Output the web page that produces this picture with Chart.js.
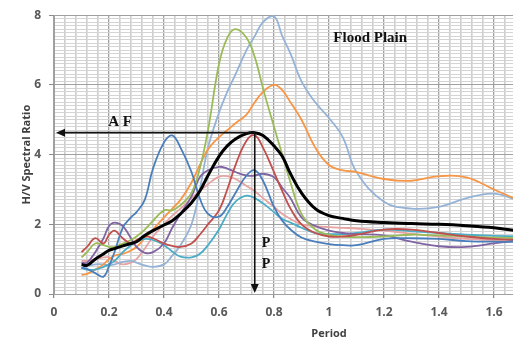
<!DOCTYPE html>
<html>
<head>
<meta charset="utf-8">
<script src="https://cdn.jsdelivr.net/npm/chart.js@4.4.1/dist/chart.umd.min.js"></script>
<style>
  html, body { margin: 0; padding: 0; background: #fff; overflow: hidden; }
  #wrap { width: 620px; height: 345px; }
</style>
</head>
<body>
<div id="wrap"><canvas id="myChart" width="620" height="345"></canvas></div>
<script>
// Period (s) of each sample point, shared by every curve
const periods = [0.10, 0.12, 0.15, 0.18, 0.20, 0.22, 0.25, 0.28, 0.30, 0.33, 0.36, 0.40, 0.43, 0.46, 0.50, 0.53, 0.56, 0.60, 0.63, 0.66,
                 0.70, 0.73, 0.76, 0.80, 0.83, 0.86, 0.90, 0.95, 1.00, 1.05, 1.10, 1.20, 1.30, 1.40, 1.50, 1.60, 1.70];

// H/V curves of the single stations
const blueHV   = [0.75, 0.72, 0.60, 0.50, 0.80, 1.20, 1.90, 2.20, 2.35, 2.70, 3.60, 4.35, 4.55, 4.20, 3.50, 2.75, 2.30, 2.22, 2.50, 2.90,
                  3.40, 3.55, 3.25, 2.50, 2.10, 1.85, 1.62, 1.50, 1.43, 1.40, 1.40, 1.58, 1.60, 1.58, 1.52, 1.50, 1.50];
const greenHV  = [1.05, 1.20, 1.45, 1.40, 1.35, 1.35, 1.45, 1.55, 1.65, 1.85, 2.10, 2.40, 2.40, 2.55, 2.90, 3.60, 4.70, 6.60, 7.35, 7.60,
                  7.35, 6.80, 5.90, 4.80, 4.00, 3.20, 2.30, 1.85, 1.70, 1.65, 1.63, 1.65, 1.70, 1.68, 1.65, 1.62, 1.60];
const lightBlueHV = [0.75, 0.80, 0.85, 0.85, 0.82, 0.85, 0.92, 0.95, 0.90, 0.82, 0.78, 0.85, 1.10, 1.40, 2.00, 3.00, 4.20, 5.20, 5.80, 6.30,
                  7.00, 7.40, 7.80, 7.97, 7.40, 6.90, 6.10, 5.50, 5.05, 4.50, 3.50, 2.65, 2.45, 2.50, 2.75, 2.88, 2.65];
const orangeHV = [0.55, 0.58, 0.70, 0.85, 1.00, 1.10, 1.15, 1.25, 1.35, 1.60, 1.85, 2.20, 2.45, 2.70, 3.20, 3.70, 4.15, 4.50, 4.70, 4.90,
                  5.15, 5.50, 5.80, 6.00, 5.85, 5.50, 5.00, 4.20, 3.70, 3.55, 3.50, 3.30, 3.25, 3.38, 3.35, 3.00, 2.65];
const redHV    = [1.20, 1.35, 1.60, 1.45, 1.70, 1.82, 1.60, 1.45, 1.55, 1.65, 1.60, 1.45, 1.38, 1.35, 1.45, 1.70, 2.00, 2.40, 3.00, 3.70,
                  4.40, 4.55, 4.20, 3.50, 2.95, 2.45, 2.00, 1.75, 1.65, 1.65, 1.70, 1.85, 1.85, 1.75, 1.65, 1.58, 1.55];
const purpleHV = [0.90, 0.90, 1.20, 1.60, 1.95, 2.05, 1.95, 1.60, 1.35, 1.18, 1.20, 1.45, 1.90, 2.30, 2.80, 3.35, 3.55, 3.65, 3.60, 3.50,
                  3.40, 3.40, 3.45, 3.35, 3.05, 2.75, 2.20, 1.95, 1.82, 1.75, 1.72, 1.68, 1.50, 1.37, 1.35, 1.45, 1.55];
const tealHV   = [0.75, 0.70, 0.70, 0.78, 0.85, 0.95, 1.20, 1.40, 1.50, 1.58, 1.55, 1.40, 1.22, 1.07, 1.05, 1.15, 1.40, 1.85, 2.30, 2.65,
                  2.82, 2.75, 2.60, 2.35, 2.15, 2.05, 1.90, 1.75, 1.72, 1.72, 1.75, 1.85, 1.80, 1.75, 1.70, 1.67, 1.65];
const pinkHV   = [0.95, 0.95, 1.00, 1.05, 1.05, 0.95, 0.85, 0.90, 1.00, 1.30, 1.65, 2.00, 2.25, 2.45, 2.75, 2.95, 3.15, 3.37, 3.38, 3.30,
                  3.10, 2.95, 2.75, 2.50, 2.30, 2.15, 2.00, 1.95, 1.92, 1.90, 1.88, 1.82, 1.73, 1.65, 1.58, 1.55, 1.55];
// average curve (black, thick)
const meanHV   = [0.85, 0.82, 1.00, 1.15, 1.25, 1.30, 1.38, 1.45, 1.50, 1.68, 1.82, 1.98, 2.10, 2.30, 2.62, 2.95, 3.40, 3.95, 4.25, 4.45,
                  4.60, 4.63, 4.55, 4.25, 3.95, 3.45, 2.90, 2.45, 2.25, 2.17, 2.10, 2.05, 2.02, 2.00, 1.96, 1.90, 1.80];

// peak of the average curve, marked by the two arrows
const peakPeriod = 0.73;
const peakAmp = 4.63;

const pts = arr => arr.map((v, i) => ({ x: periods[i], y: v }));

function isMajor(v, step) {
    return Math.abs(v / step - Math.round(v / step)) < 1e-6;
}

// arrows and the serif labels
const notes = {
    id: 'notes',
    afterDatasetsDraw(chart) {
        const ctx = chart.ctx;
        const xs = chart.scales.x, ys = chart.scales.y;
        const px = xs.getPixelForValue(peakPeriod);
        const py = ys.getPixelForValue(peakAmp);
        const x0 = xs.getPixelForValue(0) + 2;
        const y0 = ys.getPixelForValue(0) - 1;
        ctx.save();
        ctx.strokeStyle = '#111';
        ctx.fillStyle = '#111';
        ctx.lineWidth = 1.6;
        ctx.beginPath();
        ctx.moveTo(x0 + 6, py);
        ctx.lineTo(px, py);
        ctx.moveTo(px, py);
        ctx.lineTo(px, y0 - 6);
        ctx.stroke();
        // heads
        ctx.beginPath();
        ctx.moveTo(x0, py);
        ctx.lineTo(x0 + 9, py - 4);
        ctx.lineTo(x0 + 9, py + 4);
        ctx.closePath();
        ctx.fill();
        ctx.beginPath();
        ctx.moveTo(px, y0);
        ctx.lineTo(px - 4, y0 - 9);
        ctx.lineTo(px + 4, y0 - 9);
        ctx.closePath();
        ctx.fill();

        ctx.font = 'bold 15px "Liberation Serif"';
        ctx.textAlign = 'center';
        ctx.textBaseline = 'middle';
        ctx.fillText('A F', xs.getPixelForValue(0.24), ys.getPixelForValue(4.93));
        ctx.font = 'bold 14px "Liberation Serif"';
        ctx.fillText('P', xs.getPixelForValue(0.771), ys.getPixelForValue(1.45));
        ctx.fillText('P', xs.getPixelForValue(0.771), ys.getPixelForValue(0.86));
        ctx.font = 'bold 15px "Liberation Serif"';
        ctx.fillText('Flood Plain', xs.getPixelForValue(1.15), ys.getPixelForValue(7.35));
        ctx.restore();
    }
};

const thin = 1.8;
new Chart(document.getElementById('myChart'), {
    type: 'line',
    data: {
        datasets: [
            { data: pts(meanHV), borderColor: '#000000', borderWidth: 3 },
            { data: pts(blueHV), borderColor: '#4A7EBB', borderWidth: thin },
            { data: pts(redHV), borderColor: '#C0504D', borderWidth: thin },
            { data: pts(greenHV), borderColor: '#9BBB59', borderWidth: thin },
            { data: pts(purpleHV), borderColor: '#8064A2', borderWidth: thin },
            { data: pts(tealHV), borderColor: '#4BACC6', borderWidth: thin },
            { data: pts(orangeHV), borderColor: '#F79646', borderWidth: thin },
            { data: pts(lightBlueHV), borderColor: '#95B3D7', borderWidth: thin },
            { data: pts(pinkHV), borderColor: '#E6A3A1', borderWidth: thin }
        ]
    },
    options: {
        responsive: false,
        animation: false,
        layout: { padding: { top: 13, right: 16, left: 0, bottom: 0 } },
        elements: {
            point: { radius: 0 },
            line: { tension: 0.4, fill: false }
        },
        plugins: { legend: { display: false }, tooltip: { enabled: false } },
        scales: {
            x: {
                type: 'linear',
                min: 0,
                max: 2,
                afterFit: s => { s.height = 51; },
                border: { color: '#a0a0a0' },
                grid: {
                    tickLength: 4,
                    tickColor: c => isMajor(c.tick.value, 0.2) ? '#8c8c8c' : 'rgba(0,0,0,0)',
                    color: c => isMajor(c.tick.value, 0.2) ? '#a0a0a0' : '#cdcdcd',
                    lineWidth: c => isMajor(c.tick.value, 0.2) ? 1.3 : 1.6
                },
                ticks: {
                    stepSize: 0.04,
                    autoSkip: false,
                    maxRotation: 0,
                    padding: 7,
                    color: '#595959',
                    font: { family: 'Open Sans', size: 12, weight: 'bold' },
                    callback: v => isMajor(v, 0.2) ? String(Math.round(v * 10) / 10) : ''
                },
                title: {
                    display: true,
                    text: 'Period',
                    color: '#404040',
                    padding: { top: 0, bottom: 5 },
                    font: { family: 'Open Sans', size: 11, weight: 'bold' }
                }
            },
            y: {
                min: 0,
                max: 8,
                afterFit: s => { s.width = 54; },
                border: { color: '#a0a0a0' },
                grid: {
                    tickLength: 5,
                    tickColor: c => isMajor(c.tick.value, 2) ? '#8c8c8c' : 'rgba(0,0,0,0)',
                    color: c => isMajor(c.tick.value, 2) ? '#a0a0a0' : '#d4d4d4',
                    lineWidth: 1
                },
                ticks: {
                    stepSize: 0.1,
                    autoSkip: false,
                    padding: 8,
                    color: '#595959',
                    font: { family: 'Open Sans', size: 12, weight: 'bold' },
                    callback: v => isMajor(v, 2) ? String(Math.round(v)) : ''
                },
                title: {
                    display: true,
                    text: 'H/V Spectral Ratio',
                    color: '#404040',
                    padding: { top: 20, bottom: 0 },
                    font: { family: 'Open Sans', size: 11, weight: 'bold' }
                }
            }
        }
    },
    plugins: [notes]
});
</script>
</body>
</html>
